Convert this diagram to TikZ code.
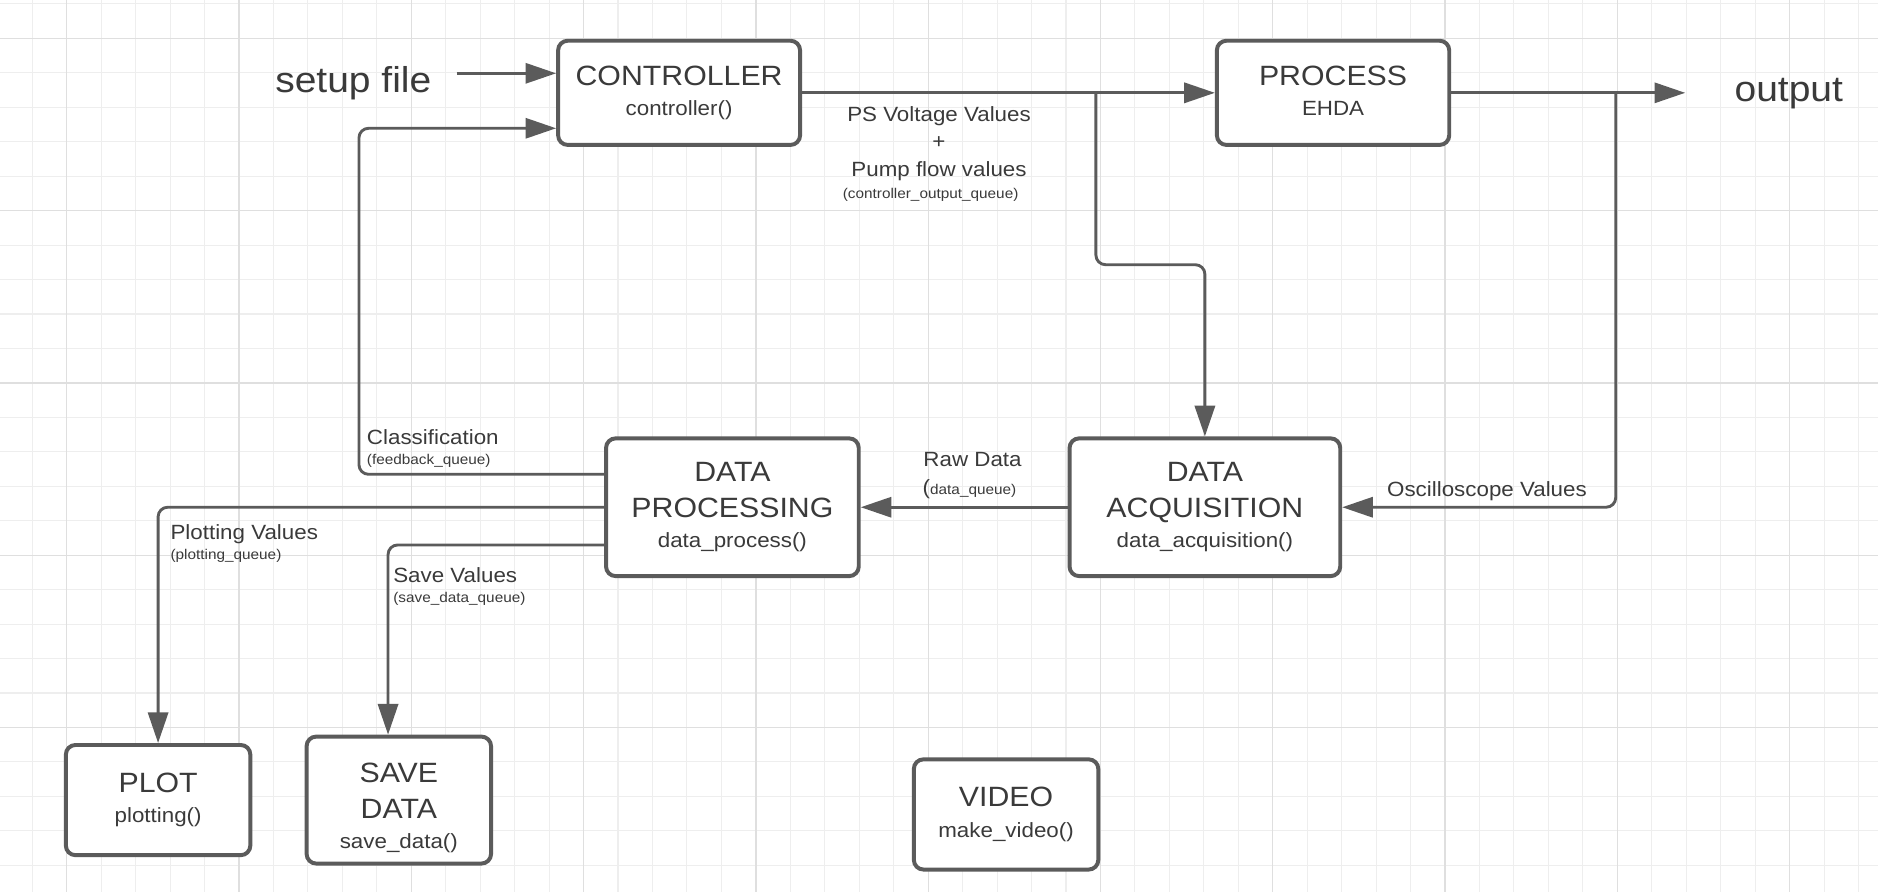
\documentclass[tikz,border=0pt]{standalone}
\usepackage{fontspec}
\setmainfont[FakeStretch=1.085]{Liberation Sans}
\usetikzlibrary{arrows.meta}
\definecolor{lncol}{HTML}{5B5B5B}
\definecolor{txcol}{HTML}{3A3A3A}
\definecolor{gminor}{HTML}{EEEEEE}
\definecolor{gmajor}{HTML}{DFDFDF}
\newcommand\myfs[1]{\fontsize{#1}{#1}\selectfont}
\begin{document}
\begin{tikzpicture}[x=0.5pt,y=-0.5pt,
  box/.style={draw=lncol, line width=1.65pt, rounded corners=4pt, fill=white, align=center,
    text=txcol, inner sep=0pt, font=\fontsize{8.6}{12.75}\selectfont},
  conn/.style={draw=lncol, line width=1.2pt, rounded corners=4pt,
    -{Triangle[length=12.8pt,width=8.4pt]}},
  lbl/.style={text=txcol, inner sep=0pt, font=\myfs{8.6}},
  qlbl/.style={text=txcol, inner sep=0pt, font=\myfs{5.9}},
  big/.style={text=txcol, inner sep=0pt, font=\myfs{15}},
  gmin/.style={draw=gminor, line width=0.45pt},
  gmaj/.style={draw=gmajor, line width=0.55pt}]
\useasboundingbox (0,0) rectangle (1568,745);
\fill[white] (0,0) rectangle (1568,745);
\begin{scope}
\clip (0,0) rectangle (1568,745);
\foreach \i in {0,...,54} \draw[gmin] ({26.9+28.77*\i},0) -- ++(0,745);
\foreach \j in {0,...,25} \draw[gmin] (0,{3.2+28.77*\j}) -- ++(1568,0);
\foreach \i in {0,...,10} \draw[gmaj] ({55.7+143.85*\i},0) -- ++(0,745);
\foreach \j in {0,...,4} \draw[gmaj] (0,{32+143.85*\j}) -- ++(1568,0);
\end{scope}

% boxes
\node[box, minimum width=101pt, minimum height=43.5pt] (ctrl) at (567,77.5)
  {{\myfs{11.65}CONTROLLER}\\controller()};
\node[box, minimum width=97pt, minimum height=43.5pt] (proc) at (1113,77.5)
  {{\myfs{11.65}PROCESS}\\EHDA\vphantom{()}};
\node[box, minimum width=113pt, minimum height=57.5pt] (da) at (1006,423.5)
  {{\myfs{11.65}DATA}\\[2.25pt]{\myfs{11.65}ACQUISITION}\\data\_acquisition()};
\node[box, minimum width=105.5pt, minimum height=57.5pt] (dp) at (611.5,423.5)
  {{\myfs{11.65}DATA}\\[2.25pt]{\myfs{11.65}PROCESSING}\\data\_process()};
\node[box, minimum width=77pt, minimum height=46pt] (plot) at (132,668)
  {{\myfs{11.65}PLOT}\\plotting()};
\node[box, minimum width=77pt, minimum height=53pt] (save) at (333,668)
  {{\myfs{11.65}\rule{0pt}{14.6pt}SAVE}\\[2.25pt]{\myfs{11.65}DATA}\\save\_data()};
\node[box, minimum width=77pt, minimum height=46pt] (video) at (840,680)
  {{\myfs{11.65}VIDEO}\\make\_video()};

% free texts
\node[big, anchor=base] (setup) at (295,77.4) {setup file};
\node[big, anchor=base] (outp) at (1493.5,85) {output};

% coordinates
\coordinate (sfin) at (381.3,61.2);
\coordinate (fbk) at (299.7,107.1);
\coordinate (bra) at (915,77.5);
\coordinate (brb) at (915,221);
\coordinate (brc) at (1349,77.5);
\coordinate (outin) at (1407,77.5);
\coordinate (svx) at (324,0);

% connectors
\draw[conn] (sfin) -- (sfin -| ctrl.west);
\draw[conn] ([yshift=13.75pt]dp.west) -| (fbk) -- (fbk -| ctrl.west);
\draw[conn] (ctrl.east) -- (proc.west);
\draw[conn] (bra) -- (brb) -| (da.north);
\draw[conn] (proc.east) -- (outin);
\draw[conn] (brc) |- (da.east);
\draw[conn] (da.west) -- (dp.east);
\draw[conn] (dp.west) -| (plot.north);
\draw[conn] ([yshift=-15.75pt]dp.west) -| (svx |- save.north);

% labels
\node[lbl, align=center, font=\fontsize{8.6}{11.5}\selectfont] (psv) at (784,119.6)
  {PS Voltage Values\\+\\Pump flow values};
\node[qlbl] (cq) at (777,163) {(controller\_output\_queue)};
\node[lbl] (raw) at (812,384) {Raw Data};
\node[lbl, anchor=west] (dq) at (770,408) {(\myfs{5.9}data\_queue)};
\node[lbl] (osc) at (1241.5,410.5) {Oscilloscope Values};
\node[lbl, anchor=west] (cls) at (306,365) {Classification};
\node[qlbl, anchor=west] (fbq) at (306,385) {(feedback\_queue)};
\node[lbl, anchor=west] (plv) at (142,445.8) {Plotting Values};
\node[qlbl, anchor=west] (plq) at (142,464) {(plotting\_queue)};
\node[lbl, anchor=west] (svv) at (328,480) {Save Values};
\node[qlbl, anchor=west] (svq) at (328,500) {(save\_data\_queue)};
\end{tikzpicture}
\end{document}
